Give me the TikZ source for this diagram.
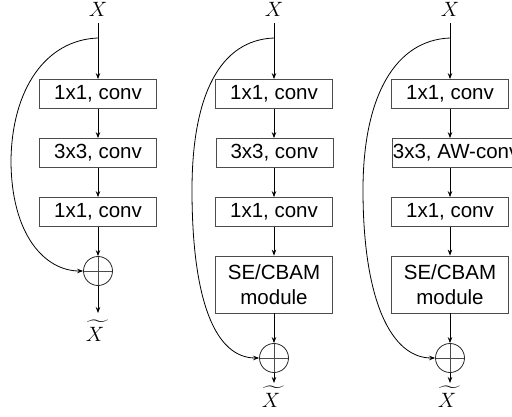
\documentclass[tikz,border=0pt]{standalone}
\usepackage{amsmath}
\usepackage{fontspec}
\setmainfont{Liberation Sans}
\usetikzlibrary{arrows.meta}
\begin{document}
\begin{tikzpicture}[x=1pt,y=-1pt,line width=0.8pt,
box/.style={draw=black!70, minimum width=117pt, minimum height=29pt, inner xsep=1pt,
    font=\fontsize{20.5}{24.5}\selectfont, align=center},
sum/.style={draw=black!85, circle, minimum size=29pt, inner sep=0pt,
    path picture={\draw[black!70] (path picture bounding box.west) -- (path picture bounding box.east)
    (path picture bounding box.north) -- (path picture bounding box.south);}},
io/.style={font=\fontsize{21}{25}\selectfont, inner xsep=3pt},
flow/.style={-{Stealth[length=6pt,width=4.5pt]}}]
\useasboundingbox (0,0) rectangle (512,417);
% plain bottleneck
\node[io,inner ysep=6pt] (X1) at (98,9.5) {$X$};
\node[box] (a1) at (98,94) {1x1, conv};
\node[box] (b1) at (98,153) {3x3, conv};
\node[box] (c1) at (98,212) {1x1, conv};
\node[sum] (p1) at (98,271) {};
\node[io,anchor=north,inner ysep=7pt] (Y1) at (98,313) {$\widetilde{X\mkern5mu}$};
\coordinate (s1) at (98,38);
\draw[flow] (X1) -- (a1);
\draw[flow] (a1) -- (b1);
\draw[flow] (b1) -- (c1);
\draw[flow] (c1) -- (p1);
\draw[flow] (p1) -- (Y1);
\draw[flow] (s1) .. controls (45,40) and (12,90) .. (11,160) .. controls (11,235) and (45,271) .. (p1.west);
% with attention module
\foreach \i/\x/\l/\d in {2/274/{3x3, conv}/82, 3/450/{3x3, AW-conv}/87} {
  \node[io,inner ysep=6pt] (X\i) at (\x,9.5) {$X$};
  \node[box] (a\i) at (\x,94) {1x1, conv};
  \node[box,anchor=west] (b\i) at ({\x-58.5},153) {\l};
  \node[box] (c\i) at (\x,212) {1x1, conv};
  \node[box, minimum height=57pt] (m\i) at (\x,284.5) {SE/CBAM\\module};
  \node[sum] (p\i) at (\x,358) {};
  \node[io,anchor=north,inner ysep=3pt] (Y\i) at (\x,383) {$\widetilde{X\mkern5mu}$};
  \coordinate (s\i) at (\x,38);
  \draw[flow] (X\i) -- (a\i);
  \draw[flow] (a\i) -- (b\i.north -| a\i);
  \draw[flow] (b\i.south -| a\i) -- (c\i);
  \draw[flow] (c\i) -- (m\i);
  \draw[flow] (m\i) -- (p\i);
  \draw[flow] (p\i) -- (Y\i);
  \draw[flow] (s\i) .. controls ({\x-54},40) and ({\x-\d},95) .. ({\x-\d},190)
    .. controls ({\x-\d},300) and ({\x-59},358) .. (p\i.west);
}
\end{tikzpicture}
\end{document}
